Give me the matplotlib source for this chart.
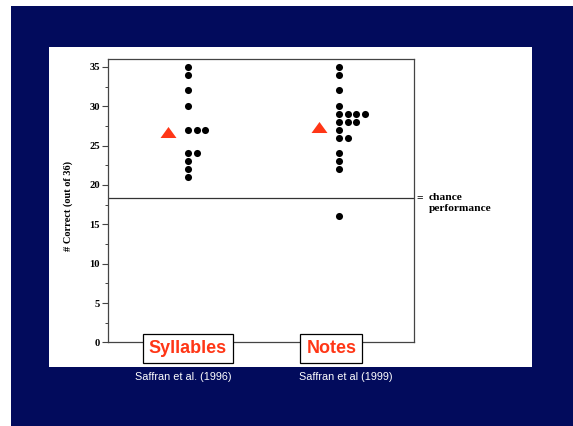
from collections import Counter

import matplotlib
matplotlib.use("Agg")
import matplotlib.pyplot as plt
from matplotlib.patches import Rectangle
from matplotlib.ticker import MultipleLocator
from matplotlib.transforms import blended_transform_factory

conditions = ["Syllables", "Notes"]
citations = ["Saffran et al. (1996)", "Saffran et al (1999)"]

# individual subject scores (# correct out of 36)
syllable_scores = [35, 34, 32, 30, 27, 27, 27, 24, 24, 23, 22, 21]
note_scores = [35, 34, 32, 30, 29, 29, 29, 29, 28, 28, 28, 27, 26, 26, 24, 23, 22, 16]
group_means = [26.7, 27.3]
chance_level = 18.3
y_ticks = [0, 5, 10, 15, 20, 25, 30, 35]

NAVY = "#020b5c"
RED = "#ff3616"
SERIF = "Liberation Serif"
SANS = "Liberation Sans"

fig = plt.figure(figsize=(5.73, 4.26), dpi=100)
fig.patch.set_facecolor("white")

# slide background and the white panel the chart sits on
fig.add_artist(Rectangle((11 / 573, 0), 1 - 11 / 573, 1 - 6 / 426,
                         transform=fig.transFigure, facecolor=NAVY,
                         edgecolor="none", zorder=0))
fig.add_artist(Rectangle((49 / 573, 1 - 367 / 426), 483 / 573, 320 / 426,
                         transform=fig.transFigure, facecolor="white",
                         edgecolor="none", zorder=0))

ax = fig.add_axes([108 / 573, 1 - 342.4 / 426, 306 / 573, 283.4 / 426])
ax.set_facecolor("white")
ax.set_xlim(0.47, 2.497)
ax.set_ylim(0, 36)

positions = [1, 2]
step = 0.057  # horizontal spacing of tied scores

for pos, scores in zip(positions, [syllable_scores, note_scores]):
    seen = Counter()
    xs, ys = [], []
    for s in scores:
        xs.append(pos + seen[s] * step)
        ys.append(s)
        seen[s] += 1
    ax.scatter(xs, ys, s=26, color="black", zorder=3, linewidths=0)

# group means as red triangles left of each column
tri = [(-1, -0.69), (1, -0.69), (0, 0.69)]
ax.plot([p - 0.133 for p in positions], group_means, linestyle="none",
        marker=tri, ms=11.5, color=RED, mec="none", zorder=3)

# chance performance line
right_edge = blended_transform_factory(ax.transAxes, ax.transData)
ax.axhline(chance_level, color="#333333", lw=0.9, zorder=2)
ax.annotate("=", xy=(1, chance_level), xycoords=right_edge,
            xytext=(2, 0.3), textcoords="offset points", ha="left", va="center",
            family=SERIF, fontweight="bold", fontsize=8.3, annotation_clip=False)
ax.annotate("chance\nperformance", xy=(1, chance_level), xycoords=right_edge,
            xytext=(10.5, 4.0), textcoords="offset points", ha="left", va="top",
            family=SERIF, fontweight="bold", fontsize=8.2, linespacing=1.25,
            annotation_clip=False)

# axes styling
for side in ["top", "right", "bottom", "left"]:
    ax.spines[side].set_color("#444444")
    ax.spines[side].set_linewidth(0.9)
ax.tick_params(axis="x", bottom=False, labelbottom=False)
ax.set_yticks(y_ticks)
ax.yaxis.set_minor_locator(MultipleLocator(2.5))
ax.tick_params(axis="y", which="major", length=4, width=0.8, pad=2,
               labelsize=7.6, color="#444444")
ax.tick_params(axis="y", which="minor", length=2.5, width=0.7, color="#444444")
for lbl in ax.get_yticklabels():
    lbl.set_family(SERIF)
    lbl.set_fontweight("bold")

ax.set_ylabel("# Correct (out of 36)", family=SERIF, fontweight="bold",
              fontsize=7.5)
ax.yaxis.set_label_coords(-35 / 306, 0.481)

# condition boxes on the baseline and citations beneath
xa = blended_transform_factory(ax.transData, ax.transAxes)
box_shift = [0, -5.5]    # points
cite_shift = [-3.5, 5]   # points
for pos, name, cite, bs, cs in zip(positions, conditions, citations,
                                   box_shift, cite_shift):
    ax.annotate(name, xy=(pos, -0.02), xycoords=xa, xytext=(bs, 0),
                textcoords="offset points", ha="center", va="center",
                family=SANS, fontweight="bold", fontsize=13, color=RED,
                bbox=dict(boxstyle="square,pad=0.33", fc="white", ec="black",
                          lw=0.9),
                annotation_clip=False, zorder=5)
    ax.annotate(cite, xy=(pos, -0.122), xycoords=xa, xytext=(cs, 0),
                textcoords="offset points", ha="center", va="center",
                family=SANS, fontsize=7.8, color="white",
                annotation_clip=False)

fig.savefig("out.png", dpi=100)
